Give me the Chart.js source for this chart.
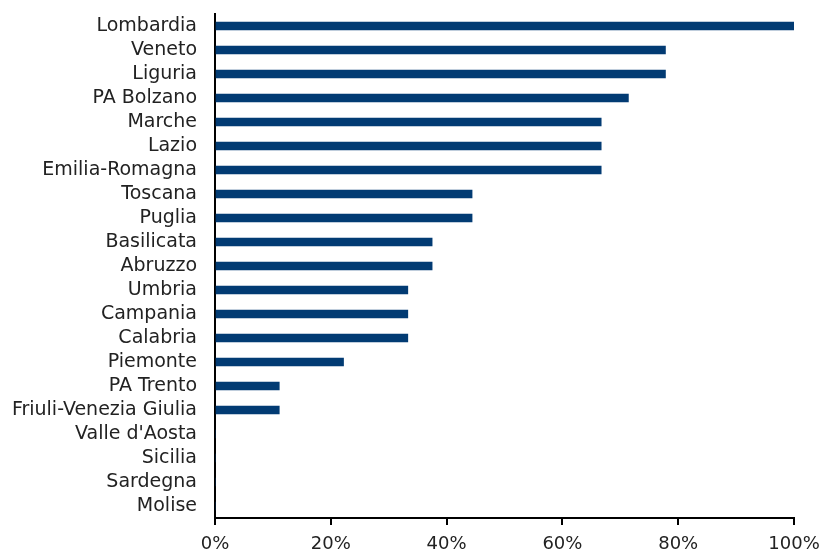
<!DOCTYPE html>
<html>
<head>
<meta charset="utf-8">
<script src="https://cdn.jsdelivr.net/npm/chart.js@4"></script>
<style>
  html, body { margin: 0; padding: 0; background: #fff; }
  #wrap { width: 822px; height: 557px; }
</style>
</head>
<body>
<div id="wrap"><canvas id="chart" width="822" height="557"></canvas></div>
<script>
const regioni = ['Lombardia', 'Veneto', 'Liguria', 'PA Bolzano', 'Marche', 'Lazio', 'Emilia-Romagna',
  'Toscana', 'Puglia', 'Basilicata', 'Abruzzo', 'Umbria', 'Campania', 'Calabria', 'Piemonte',
  'PA Trento', 'Friuli-Venezia Giulia', "Valle d'Aosta", 'Sicilia', 'Sardegna', 'Molise'];
const quote = [100, 77.8, 77.8, 71.4, 66.7, 66.7, 66.7, 44.4, 44.4, 37.5, 37.5, 33.3, 33.3, 33.3,
  22.2, 11.1, 11.1, 0, 0, 0, 0];
const tickPerc = [0, 20, 40, 60, 80, 100];

const fontFam = "'DejaVu Sans', sans-serif";

function regioneChart(id) {
  const data = {
    labels: regioni,
    datasets: [{
      data: quote,
      backgroundColor: '#023b73',
      barThickness: 8
    }]
  };

  const config = {
    type: 'bar',
    data: data,
    options: {
      indexAxis: 'y',
      responsive: false,
      animation: false,
      layout: {
        padding: { top: 14, right: 28, left: 0, bottom: 0 }
      },
      plugins: {
        legend: { display: false },
        tooltip: { enabled: false }
      },
      scales: {
        x: {
          min: 0,
          max: 100,
          afterBuildTicks: (scale) => { scale.ticks = tickPerc.map(v => ({ value: v })); },
          afterFit: (scale) => {
            scale.height = 39;
            scale.paddingLeft = 0;
            scale.paddingRight = 0;
          },
          grid: { drawOnChartArea: false, drawTicks: true, tickLength: 7, color: '#000', lineWidth: 2 },
          border: { display: true, color: '#000', width: 2 },
          ticks: {
            padding: 9,
            color: '#222',
            font: { family: fontFam, size: 18 },
            callback: (v) => v + '%'
          }
        },
        y: {
          afterFit: (scale) => {
            scale.width = 215;
            scale.paddingTop = 0;
            scale.paddingBottom = 0;
          },
          grid: { display: false },
          border: { display: true, color: '#000', width: 2 },
          ticks: {
            padding: 10,
            color: '#222',
            autoSkip: false,
            font: { family: fontFam, size: 19 }
          }
        }
      }
    }
  };

  let ctx = document.getElementById(id).getContext('2d');
  new Chart(ctx, config);
}

regioneChart('chart');
</script>
</body>
</html>
